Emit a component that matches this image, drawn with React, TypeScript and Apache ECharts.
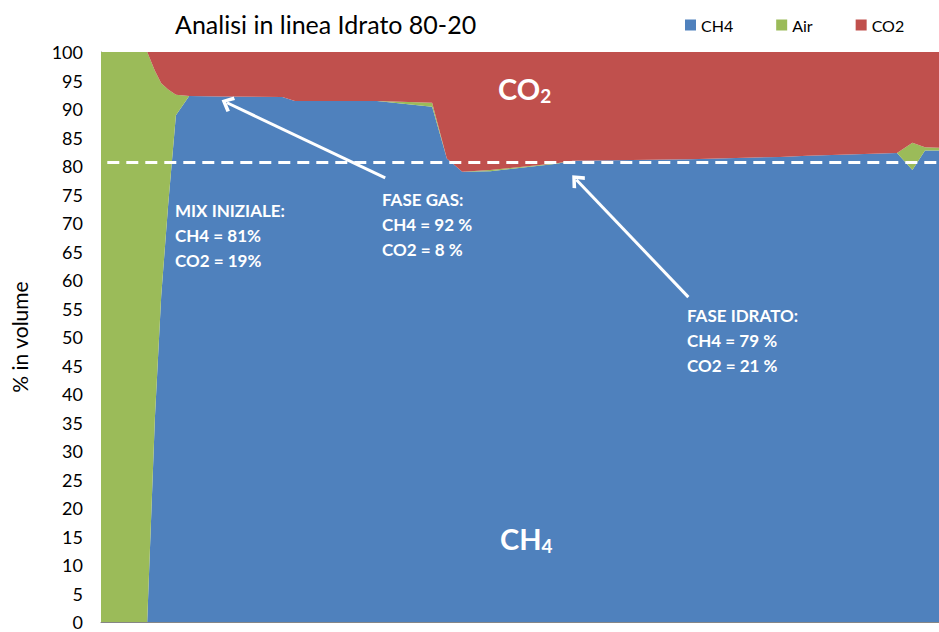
import React, { useEffect, useRef } from "react";
import * as echarts from "echarts";

// Sampling time (minutes) of each analysis point
const TIME_MIN = [0, 6.6, 7.7, 8.6, 9.6, 10.7, 12.6, 17.0, 25.9, 27.7, 39.4, 47.3, 49.4, 51.6, 55.6, 65.1, 67.4, 84.1, 97.0, 100.9, 113.7, 115.9, 117.7, 119.7];
// % in volume
const CH4 = [0, 0, 35.8, 57.2, 73.3, 88.9, 92.3, 92.2, 92.1, 91.4, 91.4, 90.4, 81.3, 79.0, 79.1, 80.4, 80.9, 81.2, 81.6, 81.8, 82.3, 79.3, 82.7, 82.7];
const AIR = [100, 100, 60.9, 37.3, 20.1, 3.6, 0, 0, 0, 0, 0, 0.7, 0, 0, 0.2, 0.1, 0, 0, 0, 0, 0, 4.8, 0.6, 0.5];
const CO2 = [0, 0, 3.3, 5.5, 6.6, 7.5, 7.7, 7.8, 7.9, 8.6, 8.6, 8.9, 18.7, 21.0, 20.7, 19.5, 19.1, 18.8, 18.4, 18.2, 17.7, 15.9, 16.7, 16.8];

const SERIES_NAMES = ["CH4", "Air", "CO2"];
const COLORS = ["#4F81BD", "#9BBB59", "#C0504D"];
const Y_MIN = 0;
const Y_MAX = 100;
const Y_STEP = 5;

// reference level (initial mix CH4 %)
const REF_LEVEL = 80.7;
const REF_START_MIN = 0.9;
// annotation arrows: [tailTime, tailValue, headTime, headValue]
const ARROW_GAS = [40.6, 77.9, 18.0, 91.1];
const ARROW_HYD = [83.9, 57.0, 67.9, 77.6];

const FONT = "Lato, 'Open Sans', sans-serif";
const MS = 60000;

const chevron = "path://M0,11 L10,0 L20,11 L17,14 L10,6 L3,14 Z";

export default function App() {
  const ref = useRef<HTMLDivElement>(null);
  useEffect(() => {
    document.body.style.margin = "0";
    if (!ref.current) return;
    const chart = echarts.init(ref.current, null, { renderer: "svg" });
    const lastT = TIME_MIN[TIME_MIN.length - 1] * MS;
    const values = [CH4, AIR, CO2];
    const arrowLine = (a: number[]) => [
      { coord: [a[0] * MS, a[1]], symbol: "none" },
      { coord: [a[2] * MS, a[3]], symbol: chevron, symbolSize: [17, 12] },
    ];
    const series: any[] = SERIES_NAMES.map((name, i) => ({
      name,
      type: "line",
      stack: "total",
      showSymbol: false,
      symbol: "none",
      smooth: false,
      lineStyle: { width: 0, opacity: 0 },
      areaStyle: { color: COLORS[i], opacity: 1 },
      itemStyle: { color: COLORS[i] },
      data: TIME_MIN.map((t, k) => [t * MS, values[i][k]]),
      z: 2,
    }));
    series[0].markLine = {
      silent: true,
      animation: false,
      label: { show: false },
      symbol: "none",
      data: [
        [
          { coord: [REF_START_MIN * MS, REF_LEVEL], symbol: "none", lineStyle: { color: "#fff", width: 3, type: [12, 7] } },
          { coord: [lastT, REF_LEVEL], symbol: "none" },
        ],
        arrowLine(ARROW_GAS),
        arrowLine(ARROW_HYD),
      ],
      lineStyle: { color: "#fff", width: 3, type: "solid" },
      itemStyle: { color: "#fff" },
    };
    const whiteBold = (x: number, y: number, text: string) => ({
      type: "text",
      x,
      y,
      style: {
        text,
        fill: "#fff",
        font: `bold 17px ${FONT}`,
        lineHeight: 25,
        verticalAlign: "top",
        align: "left",
      },
      z: 100,
    });
    const chemLabel = (x: number, y: number, main: string, sub: string) => ({
      type: "text",
      x,
      y,
      style: {
        text: `{m|${main}}{s|${sub}}`,
        fill: "#fff",
        align: "left",
        verticalAlign: "middle",
        rich: {
          m: { fontSize: 29, fontWeight: "bold", fontFamily: FONT, fill: "#fff", lineHeight: 34 },
          s: { fontSize: 19, fontWeight: "bold", fontFamily: FONT, fill: "#fff", lineHeight: 20, verticalAlign: "bottom" },
        },
      },
      z: 100,
    });
    chart.setOption({
      animation: false,
      backgroundColor: "#fff",
      title: {
        text: "Analisi in linea Idrato 80-20",
        left: 170,
        top: 6,
        textStyle: { fontFamily: FONT, fontSize: 25, fontWeight: "normal", color: "#000" },
      },
      legend: {
        data: SERIES_NAMES,
        left: 680,
        top: 12,
        icon: "rect",
        itemWidth: 11,
        itemHeight: 11,
        itemGap: 43,
        textStyle: { fontFamily: FONT, fontSize: 16, color: "#000" },
      },
      grid: { left: 101, right: 0, top: 52, bottom: 10, containLabel: false },
      xAxis: {
        type: "time",
        min: 0,
        max: lastT,
        axisLine: { show: true, lineStyle: { color: "#868686", width: 1 } },
        axisTick: { show: false },
        axisLabel: { show: false },
        splitLine: { show: false },
      },
      yAxis: {
        type: "value",
        min: Y_MIN,
        max: Y_MAX,
        interval: Y_STEP,
        name: "% in volume",
        nameLocation: "middle",
        nameRotate: 90,
        nameGap: 71,
        nameTextStyle: { fontFamily: FONT, fontSize: 21, color: "#000" },
        axisLine: { show: true, lineStyle: { color: "#868686", width: 1 } },
        axisTick: { show: false },
        axisLabel: { fontFamily: FONT, fontSize: 18, color: "#000", margin: 18 },
        splitLine: { show: false },
      },
      series,
      graphic: [
        whiteBold(175, 198, "MIX INIZIALE:\nCH4 = 81%\nCO2 = 19%"),
        whiteBold(382, 187, "FASE GAS:\nCH4 = 92 %\nCO2 = 8 %"),
        whiteBold(687, 303, "FASE IDRATO:\nCH4 = 79 %\nCO2 = 21 %"),
        chemLabel(498, 88, "CO", "2"),
        chemLabel(500, 538, "CH", "4"),
      ],
    });
    return () => chart.dispose();
  }, []);
  return <div ref={ref} style={{ width: 939, height: 632 }} />;
}
